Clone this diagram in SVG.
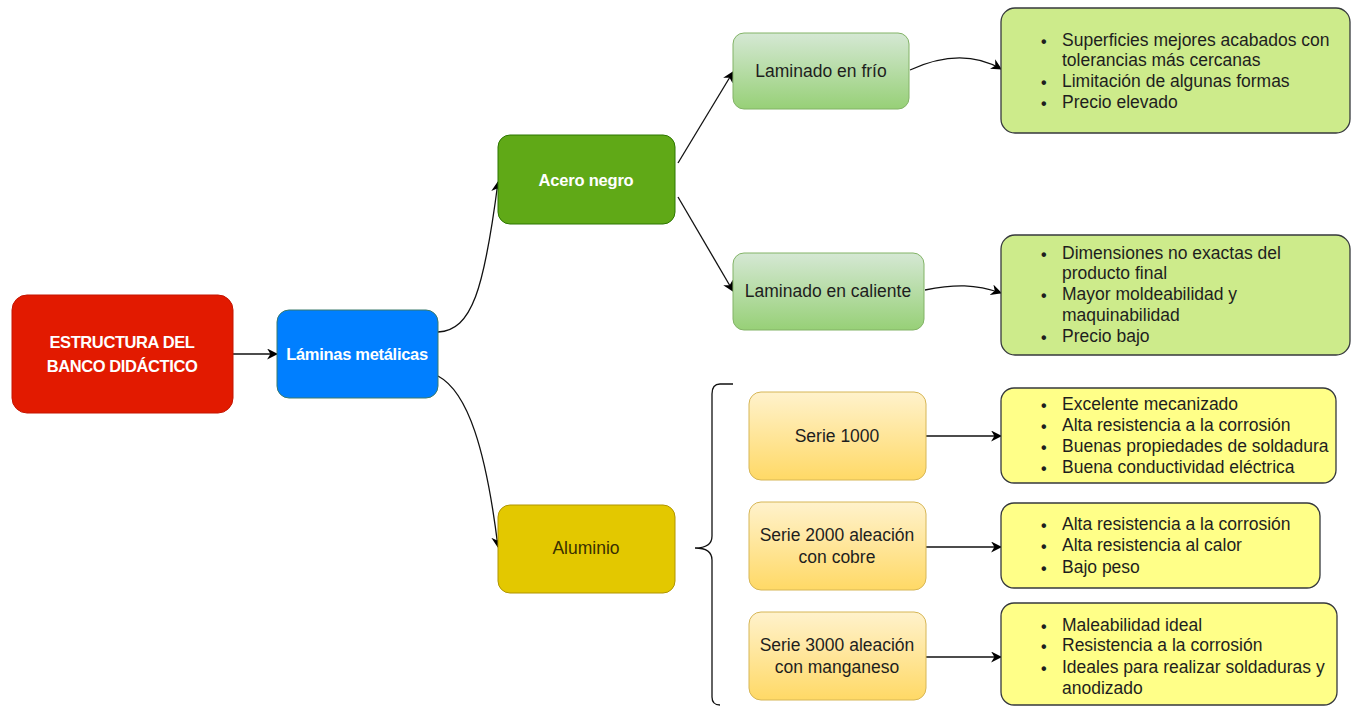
<svg xmlns="http://www.w3.org/2000/svg" width="1356" height="707" viewBox="0 0 1356 707">
<defs>
<linearGradient id="gGreen" x1="0" y1="0" x2="0" y2="1"><stop offset="0" stop-color="#d5e8d4"/><stop offset="1" stop-color="#97d077"/></linearGradient>
<linearGradient id="gOrange" x1="0" y1="0" x2="0" y2="1"><stop offset="0" stop-color="#fff2cc"/><stop offset="1" stop-color="#ffd966"/></linearGradient>
<marker id="arr" viewBox="0 0 10 10" refX="9" refY="5" markerWidth="11" markerHeight="11" markerUnits="userSpaceOnUse" orient="auto"><path d="M0,0 L10,5 L0,10 L3,5 Z" fill="#000"/></marker>
<style>
text{font-family:"Liberation Sans",Arial,sans-serif;font-size:17.5px;fill:#1e1e1e}
.c{text-anchor:middle;dominant-baseline:central}
.w{fill:#fff;font-weight:bold;font-size:16.5px}
.e{fill:none;stroke:#111;stroke-width:1.3;marker-end:url(#arr)}
.lg{fill:url(#gGreen);stroke:#82b366;stroke-width:1}
.lo{fill:url(#gOrange);stroke:#d6b656;stroke-width:1}
.bg{fill:#cdeb8b;stroke:#36393d;stroke-width:1.3}
.by{fill:#ffff88;stroke:#36393d;stroke-width:1.3}
.b{dominant-baseline:central}
.d{dominant-baseline:central;font-size:16px;font-weight:bold}
</style>
</defs>
<rect width="1356" height="707" fill="#fff"/>
<g id="connectors">
<path class="e" d="M233,354 L277,354"/>
<path class="e" d="M438,332 C472,330 484,290 498,182"/>
<path class="e" d="M438,376 C468,392 486,450 498,547"/>
<path class="e" d="M678,163 L733,72"/>
<path class="e" d="M678,197 L733,291"/>
<path class="e" d="M910,70 C945,54 975,54 1001,69"/>
<path class="e" d="M925,290 C955,284 975,284 1001,293"/>
<path class="e" d="M926,436 L1001,436"/>
<path class="e" d="M926,547 L1001,547"/>
<path class="e" d="M926,657 L1001,657"/>
<path d="M733,384 L720,384 Q712,384 712,394 L712,536 Q712,548 695,548 Q712,548 712,560 L712,697 Q712,705 720,705" fill="none" stroke="#111" stroke-width="1.3"/>
</g>
<g id="n-estructura">
<rect x="12" y="295" width="221" height="118" rx="15" fill="#e21a00" stroke="#c41400"/>
<text class="c w" x="122" y="342" font-size="18" letter-spacing="-0.4">ESTRUCTURA DEL</text>
<text class="c w" x="122" y="366" font-size="18" letter-spacing="-0.4">BANCO DIDÁCTICO</text>
</g>
<g id="n-laminas">
<rect x="277" y="310" width="161" height="88" rx="12" fill="#007fff" stroke="#3a7a6a"/>
<text class="c w" x="357" y="354" letter-spacing="-0.3">Láminas metálicas</text>
</g>
<g id="n-acero">
<rect x="498" y="135" width="177" height="89" rx="12" fill="#60a917" stroke="#2d7600"/>
<text class="c w" x="586" y="180" letter-spacing="-0.2">Acero negro</text>
</g>
<g id="n-frio">
<rect class="lg" x="733" y="33" width="176" height="76" rx="11"/>
<text class="c" x="821" y="71">Laminado en frío</text>
</g>
<g id="n-caliente">
<rect class="lg" x="733" y="253" width="191" height="77" rx="11"/>
<text class="c" x="828" y="291">Laminado en caliente</text>
</g>
<g id="n-frio-list">
<rect class="bg" x="1001" y="8" width="349" height="125" rx="14"/>
<text class="d" x="1041" y="41">•</text><text class="b" x="1062" y="40">Superficies mejores acabados con</text>
<text class="b" x="1062" y="60">tolerancias más cercanas</text>
<text class="d" x="1041" y="82">•</text><text class="b" x="1062" y="81">Limitación de algunas formas</text>
<text class="d" x="1041" y="103">•</text><text class="b" x="1062" y="102">Precio elevado</text>
</g>
<g id="n-caliente-list">
<rect class="bg" x="1001" y="235" width="349" height="120" rx="14"/>
<text class="d" x="1041" y="254">•</text><text class="b" x="1062" y="253">Dimensiones no exactas del</text>
<text class="b" x="1062" y="273">producto final</text>
<text class="d" x="1041" y="295">•</text><text class="b" x="1062" y="294">Mayor moldeabilidad y</text>
<text class="b" x="1062" y="315">maquinabilidad</text>
<text class="d" x="1041" y="337">•</text><text class="b" x="1062" y="336">Precio bajo</text>
</g>
<g id="n-aluminio">
<rect x="498" y="505" width="177" height="88" rx="12" fill="#e3c800" stroke="#b09500"/>
<text class="c" x="586" y="548" style="fill:#3a3000">Aluminio</text>
</g>
<g id="n-s1000">
<rect class="lo" x="749" y="392" width="177" height="88" rx="12"/>
<text class="c" x="837" y="436">Serie 1000</text>
</g>
<g id="n-s2000">
<rect class="lo" x="749" y="502" width="177" height="88" rx="12"/>
<text class="c" x="837" y="535">Serie 2000 aleación</text>
<text class="c" x="837" y="557">con cobre</text>
</g>
<g id="n-s3000">
<rect class="lo" x="749" y="612" width="177" height="88" rx="12"/>
<text class="c" x="837" y="645">Serie 3000 aleación</text>
<text class="c" x="837" y="667">con manganeso</text>
</g>
<g id="n-s1000-list">
<rect class="by" x="1001" y="388" width="335" height="95" rx="13"/>
<text class="d" x="1041" y="405">•</text><text class="b" x="1062" y="404">Excelente mecanizado</text>
<text class="d" x="1041" y="426">•</text><text class="b" x="1062" y="425">Alta resistencia a la corrosión</text>
<text class="d" x="1041" y="447">•</text><text class="b" x="1062" y="446">Buenas propiedades de soldadura</text>
<text class="d" x="1041" y="468">•</text><text class="b" x="1062" y="467">Buena conductividad eléctrica</text>
</g>
<g id="n-s2000-list">
<rect class="by" x="1001" y="503" width="319" height="85" rx="13"/>
<text class="d" x="1041" y="525">•</text><text class="b" x="1062" y="524">Alta resistencia a la corrosión</text>
<text class="d" x="1041" y="546">•</text><text class="b" x="1062" y="545">Alta resistencia al calor</text>
<text class="d" x="1041" y="568">•</text><text class="b" x="1062" y="567">Bajo peso</text>
</g>
<g id="n-s3000-list">
<rect class="by" x="1001" y="603" width="336" height="102" rx="13"/>
<text class="d" x="1041" y="626">•</text><text class="b" x="1062" y="625">Maleabilidad ideal</text>
<text class="d" x="1041" y="646">•</text><text class="b" x="1062" y="645">Resistencia a la corrosión</text>
<text class="d" x="1041" y="668">•</text><text class="b" x="1062" y="667">Ideales para realizar soldaduras y</text>
<text class="b" x="1062" y="688">anodizado</text>
</g>
</svg>
